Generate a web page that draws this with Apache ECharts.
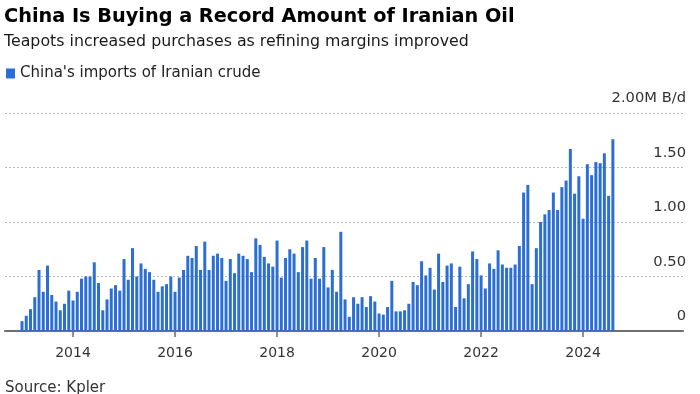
<!DOCTYPE html>
<html><head><meta charset="utf-8">
<script src="https://cdn.jsdelivr.net/npm/echarts@6/dist/echarts.min.js"></script>
<style>html,body{margin:0;padding:0;background:#fff}#c{width:700px;height:394px}</style>
</head><body><div id="c"></div>
<script>
// Monthly categories Jan 2013 .. Aug 2024
const startYear = 2013;
const months = [];
for (let y = 2013; y <= 2024; y++) for (let m = 1; m <= 12; m++) { if (y === 2024 && m > 8) break; months.push(y + '-' + String(m).padStart(2, '0')); }
// China's imports of Iranian crude, million barrels/day
const imports = [
  0.09,0.14,0.20,0.31,0.56,0.36,0.60,0.33,0.27,0.19,0.25,0.37,   // 2013
  0.28,0.36,0.48,0.50,0.50,0.63,0.44,0.19,0.29,0.39,0.42,0.37,   // 2014
  0.66,0.47,0.76,0.50,0.62,0.57,0.54,0.47,0.36,0.41,0.43,0.50,   // 2015
  0.36,0.49,0.56,0.69,0.67,0.78,0.56,0.82,0.56,0.69,0.71,0.67,   // 2016
  0.46,0.66,0.53,0.71,0.69,0.66,0.54,0.85,0.79,0.68,0.62,0.59,   // 2017
  0.83,0.49,0.67,0.75,0.71,0.54,0.77,0.83,0.48,0.67,0.48,0.77,   // 2018
  0.40,0.56,0.36,0.91,0.29,0.13,0.31,0.25,0.31,0.22,0.32,0.27,   // 2019
  0.16,0.15,0.22,0.46,0.18,0.18,0.19,0.25,0.45,0.42,0.64,0.51,   // 2020
  0.58,0.38,0.71,0.45,0.60,0.62,0.22,0.59,0.30,0.43,0.73,0.66,   // 2021
  0.51,0.39,0.62,0.57,0.74,0.61,0.58,0.58,0.61,0.78,1.27,1.34,   // 2022
  0.43,0.76,1.00,1.07,1.11,1.27,1.11,1.32,1.38,1.67,1.26,1.42,   // 2023
  1.03,1.53,1.43,1.55,1.54,1.63,1.24,1.76                        // 2024
];
const xTickYears = ['2014','2016','2018','2020','2022','2024'];
const yTickLabels = ['0','0.50','1.00','1.50','2.00M B/d'];
const seriesName = "China's imports of Iranian crude";
const titleText = 'China Is Buying a Record Amount of Iranian Oil';
const subtitleText = 'Teapots increased purchases as refining margins improved';
const sourceText = 'Source: Kpler';

const FONT = '"DejaVu Sans", sans-serif';
const tickIdx = xTickYears.map(y => (parseInt(y, 10) - startYear) * 12);
const chart = echarts.init(document.getElementById('c'), null, {renderer: 'canvas'});
chart.setOption({
  animation: false,
  backgroundColor: '#fff',
  textStyle: {fontFamily: FONT},
  title: [
    {text: titleText, left: 4, top: 7, padding: 0,
     textStyle: {fontSize: 19.3, fontWeight: 'bold', color: '#000', fontFamily: FONT}},
    {text: subtitleText, left: 4, top: 34, padding: 0,
     textStyle: {fontSize: 15.8, fontWeight: 'normal', color: '#1a1a1a', fontFamily: FONT}}
  ],
  legend: {left: 6, top: 66, padding: 0, icon: 'rect', itemWidth: 9, itemHeight: 10, itemGap: 10,
    textStyle: {fontSize: 15, color: '#222', fontFamily: FONT}, data: [seriesName]},
  grid: {left: 5, right: 17, top: 113, bottom: 63, containLabel: false},
  xAxis: {
    type: 'value', min: -4, max: 155.5,
    axisLine: {show: true, lineStyle: {color: '#6e6e6e', width: 2}},
    axisTick: {show: true, customValues: tickIdx, length: 6, lineStyle: {color: '#6e6e6e', width: 1.5}},
    axisLabel: {customValues: tickIdx, margin: 15, fontSize: 14, color: '#333', fontFamily: FONT,
      formatter: v => xTickYears[tickIdx.indexOf(Math.round(v))] || ''},
    splitLine: {show: false}
  },
  yAxis: {
    type: 'value', position: 'right', min: 0, max: 2, interval: 0.5,
    axisLine: {show: false}, axisTick: {show: false},
    splitLine: {show: true, lineStyle: {type: [2, 2], color: '#b8b8b8', width: 1}},
    axisLabel: {inside: true, margin: -3, verticalAlign: 'bottom', padding: [0, 0, 7, 0],
      fontSize: 14.7, color: '#333', fontFamily: FONT,
      formatter: v => yTickLabels[Math.round(v / 0.5)]}
  },
  graphic: [{type: 'text', left: 5, top: 381, style: {text: sourceText, fontSize: 15, fill: '#333', fontFamily: FONT}}],
  series: [{
    name: seriesName, type: 'bar', barWidth: 3,
    itemStyle: {color: '#2c6fd4'},
    data: imports.map((v, i) => [i, v])
  }]
});
</script></body></html>
